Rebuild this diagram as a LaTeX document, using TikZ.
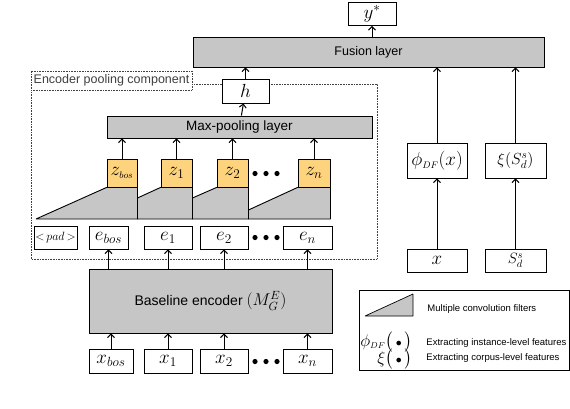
\documentclass[tikz,border=0pt]{standalone}
\usepackage{fix-cm}
\usepackage[no-math]{fontspec}
\setmainfont{Liberation Sans}
\usepackage{amsmath,amssymb}
\usepackage{xcolor}
\usepackage{tikz}
\usetikzlibrary{arrows.meta,positioning}
\definecolor{layergray}{RGB}{198,198,198}
\definecolor{zorange}{RGB}{253,211,125}

\begin{document}
\begin{tikzpicture}[x=1pt, y=-1pt, line width=0.9pt,
  box/.style={draw, fill=white, inner sep=0pt, minimum height=23pt, font=\fontsize{19}{20}\selectfont},
  zbox/.style={box, fill=zorange, minimum height=28pt},
  layer/.style={draw, fill=layergray, inner sep=0pt, font=\fontsize{13.5}{15}\selectfont},
  filt/.style={draw, fill=layergray, line join=bevel},
  arr/.style={-{Straight Barb[length=3.5pt,width=7pt]}, line width=1pt},
  comp/.style={densely dotted, line width=0.6pt, black!75},
  legtext/.style={anchor=west, inner sep=0pt, font=\fontsize{9.5}{11}\selectfont},
  legsym/.style={anchor=east, inner sep=0pt, font=\fontsize{17}{18}\selectfont}]
  \useasboundingbox (0,0) rectangle (570,408);

  % encoder pooling component (dotted frame)
  \draw[comp] (31,84) rectangle (377,259);
  \node[comp, draw, fill=white, inner sep=0pt, minimum width=161pt, minimum height=19pt,
        font=\fontsize{12.5}{14}\selectfont] (complbl) at (111.5,80.5) {Encoder pooling component};

  % layers
  \node[layer, minimum width=351pt, minimum height=30pt, font=\fontsize{12.5}{14}\selectfont] (fusion) at (368.5,52) {Fusion layer};
  \node[layer, minimum width=265pt, minimum height=22pt] (maxpool) at (239.5,127) {Max-pooling layer};
  \node[layer, minimum width=243pt, minimum height=64pt, font=\fontsize{14}{15}\selectfont] (enc) at (210.5,301)
    {Baseline encoder {\fontsize{17}{18}\selectfont$(M_G^E)$}};
  \node[box, minimum width=48pt] (ystar) at (372,14) {$y^*$};
  \node[box, minimum width=47pt, minimum height=24pt] (h) at (245.5,91) {$h$};

  % z boxes, e boxes, x boxes
  \foreach \n/\x/\w/\t in {bos/122/30/{z_{\scriptscriptstyle bos}}, 1/176.5/31/z_1, 2/232.5/31/z_2, n/314/32/z_n}
    \node[zbox, minimum width=\w pt] (z\n) at (\x,173) {$\t$};
  \node[box, minimum width=43pt, font=\fontsize{12}{12}\selectfont] (pad) at (55.5,237.5) {${<}\,pad\,{>}$};
  \foreach \n/\x/\w in {bos/108.5/39, 1/168/48, 2/224/48, n/307.5/49}
    \node[box, minimum width=\w pt] (e\n) at (\x,237.5) {$e_{\n}$};
  \foreach \n/\x/\w in {bos/111/44, 1/168/48, 2/224/48, n/307.5/49}
    \node[box, minimum width=\w pt, minimum height=24pt] (x\n) at (\x,361) {$x_{\n}$};
  \foreach \y in {173.5,237.5,361.5}
    \foreach \x in {255,266,277}
      \fill (\x,\y) circle (2.6pt);

  % convolution filters
  \coordinate (base) at (0,219);
  \filldraw[filt] (36,219) -- (zbos.south west) -- (zbos.south east) -- (zbos.south east |- base) -- cycle;
  \filldraw[filt] (zbos.south east |- 0,198) -- (z1.south west) -- (z1.south east) -- (z1.south east |- base) -- (zbos.south east |- base) -- cycle;
  \filldraw[filt] (z1.south east |- 0,198) -- (z2.south west) -- (z2.south east) -- (z2.south east |- base) -- (z1.south east |- base) -- cycle;
  \filldraw[filt] (z2.south east |- 0,210) -- (zn.south west) -- (zn.south east) -- (zn.south east |- base) -- (z2.south east |- base) -- cycle;

  % right branch
  \node[box, minimum width=60pt, minimum height=35pt] (phi) at (437,160.5) {$\phi_{\scriptscriptstyle DF}(x)$};
  \node[box, minimum width=61pt, minimum height=35pt, font=\fontsize{16}{17}\selectfont] (xi) at (515.5,160.5) {$\xi(S^s_d)$};
  \node[box, minimum width=60pt] (xin) at (437,260.5) {$x$};
  \node[box, minimum width=61pt, font=\fontsize{15}{16}\selectfont] (sds) at (515.5,260.5) {$S^s_d$};

  % arrows
  \foreach \n in {bos,1,2,n}{
    \draw[arr] (x\n) -- (x\n |- enc.south);
    \draw[arr] (e\n |- enc.north) -- (e\n);
    \draw[arr] (z\n) -- (z\n |- maxpool.south);
  }
  \draw[arr] (maxpool) -- (h);
  \draw[arr] (h) -- (h |- fusion.south);
  \draw[arr] (ystar |- fusion.north) -- (ystar);
  \draw[arr] (xin) -- (phi);
  \draw[arr] (sds) -- (xi);
  \draw[arr] (phi) -- (phi |- fusion.south);
  \draw[arr] (xi) -- (xi |- fusion.south);

  % legend
  \node[draw, line width=0.7pt, minimum width=210pt, minimum height=80pt] (legend) at (464,330) {};
  \filldraw[filt, line width=0.7pt] (365,316) -- (413,294) -- (413,316) -- cycle;
  \node[legtext] (legconv) at (427,309) {Multiple convolution filters};
  \node[legtext] (leginst) at (426,343) {Extracting instance-level features};
  \node[legtext] (legcorp) at (426,358) {Extracting corpus-level features};
  \node[legsym] (legphi) at (413,342) {$\phi_{\scriptscriptstyle DF}\bigl(\,{\scriptstyle\bullet}\,\bigr)$};
  \node[legsym] (legxi) at (413,359) {$\xi\bigl(\,{\scriptstyle\bullet}\,\bigr)$};
\end{tikzpicture}
\end{document}
